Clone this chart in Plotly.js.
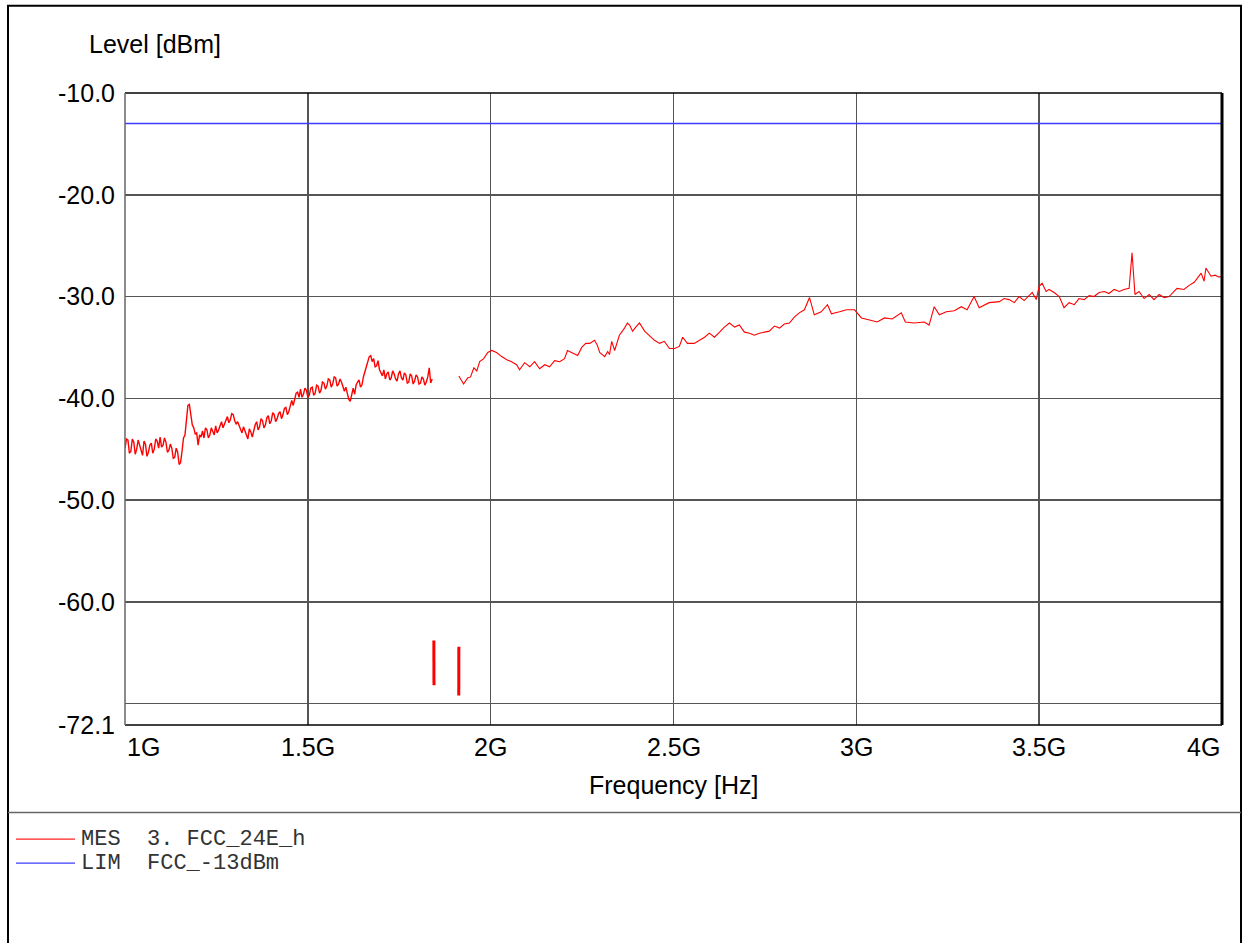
<!DOCTYPE html>
<html>
<head>
<meta charset="utf-8">
<script src="https://cdn.plot.ly/plotly-3.0.1.min.js"></script>
<style>
html,body{margin:0;padding:0;background:#fff;}
#chart{width:1243px;height:943px;}
</style>
</head>
<body>
<div id="chart"></div>
<script>
// ---- Data (frequency in MHz, level in dBm) ----
const seg1Freq = [1000,1004,1008,1012,1016,1020,1024,1028,1032,1036,1040,1044,1048,1052,1056,1060,1064,1068,1072,1076,
  1080,1084,1088,1092,1096,1100,1104,1108,1112,1116,1120,1124,1128,1132,1136,1140,1144,1148,1152,1156,
  1160,1164,1168,1172,1176,1180,1184,1188,1192,1196,1200,1204,1208,1212,1216,1220,1224,1228,1232,1236,
  1240,1244,1248,1252,1256,1260,1264,1268,1272,1276,1280,1284,1288,1292,1296,1300,1304,1308,1312,1316,
  1320,1324,1328,1332,1336,1340,1344,1348,1352,1356,1360,1364,1368,1372,1376,1380,1384,1388,1392,1396,
  1400,1404,1408,1412,1416,1420,1424,1428,1432,1436,1440,1444,1448,1452,1456,1460,1464,1468,1472,1476,
  1480,1484,1488,1492,1496,1500,1504,1508,1512,1516,1520,1524,1528,1532,1536,1540,1544,1548,1552,1556,
  1560,1564,1568,1572,1576,1580,1584,1588,1592,1596,1600,1604,1608,1612,1616,1620,1624,1628,1632,1636,
  1640,1644,1648,1652,1656,1660,1664,1668,1672,1676,1680,1684,1688,1692,1696,1700,1704,1708,1712,1716,
  1720,1724,1728,1732,1736,1740,1744,1748,1752,1756,1760,1764,1768,1772,1776,1780,1784,1788,1792,1796,
  1800,1804,1808,1812,1816,1820,1824,1828,1832,1836,1840];
const seg1Level = [-44.9,-44.0,-44.1,-45.4,-45.2,-44.0,-44.3,-45.5,-45.0,-44.1,-44.6,-45.1,-45.6,-44.2,-44.5,-45.7,-45.3,-44.6,-44.4,-45.4,
  -45.0,-44.0,-44.2,-44.9,-43.8,-44.8,-44.6,-43.9,-44.3,-45.3,-45.1,-44.5,-44.9,-45.9,-45.8,-44.9,-45.3,-46.5,-46.3,-45.2,
  -43.9,-43.6,-42.3,-40.7,-40.6,-41.8,-42.6,-42.9,-43.5,-43.4,-44.6,-43.6,-43.8,-43.2,-43.9,-42.9,-43.1,-43.9,-43.6,-42.9,
  -43.3,-43.6,-42.7,-43.4,-43.1,-42.6,-42.3,-42.9,-42.5,-42.0,-41.8,-42.4,-42.1,-41.5,-41.6,-42.2,-42.5,-42.3,-42.7,-43.2,
  -43.4,-42.8,-43.2,-43.8,-44.0,-43.0,-43.3,-43.8,-43.0,-42.6,-42.3,-43.1,-42.8,-42.0,-42.2,-42.9,-42.6,-41.9,-41.7,-42.5,
  -42.2,-41.4,-41.6,-42.3,-42.0,-41.5,-41.3,-42.0,-41.6,-41.0,-40.9,-41.6,-41.3,-40.6,-40.2,-40.7,-40.0,-39.5,-39.4,-39.9,
  -39.1,-39.9,-39.6,-39.0,-39.2,-39.9,-39.7,-39.0,-38.9,-39.7,-39.5,-38.7,-38.8,-39.5,-39.2,-38.4,-38.5,-39.1,-38.8,-38.1,
  -38.2,-38.9,-38.6,-37.9,-38.0,-38.8,-38.6,-38.1,-38.4,-39.0,-39.3,-38.9,-39.6,-40.1,-40.3,-39.5,-39.0,-39.6,-38.7,-38.4,
  -38.2,-38.9,-38.7,-37.9,-37.5,-36.9,-36.4,-35.9,-35.8,-36.4,-36.1,-36.9,-36.8,-36.3,-37.2,-37.5,-37.8,-37.2,-38.1,-37.6,
  -37.4,-38.2,-38.0,-37.3,-37.6,-38.1,-38.3,-37.6,-37.3,-38.0,-38.2,-37.5,-37.7,-38.5,-38.4,-37.6,-37.8,-38.6,-38.3,-37.7,
  -37.9,-38.6,-38.5,-37.9,-38.1,-38.7,-38.4,-37.9,-37.0,-38.5,-38.1];

const notch1Freq = [1844.6,1845.4,1844.8,1845.6,1845.0];
const notch1Level = [-63.8,-66.0,-67.4,-65.0,-68.2];
const notch2Freq = [1913.0,1912.2,1913.2,1912.4,1912.8];
const notch2Level = [-64.4,-66.5,-68.0,-67.0,-69.2];

const seg2Freq = [1913,1921,1926,1937,1945,1954,1962,1970,1981,1992,2003,2016,2030,2044,2057,2071,2079,2093,2107,2120,
  2134,2148,2161,2175,2189,2202,2210,2221,2238,2249,2260,2271,2284,2292,2298,2312,2320,2325,2331,2339,
  2352,2366,2374,2380,2388,2399,2407,2421,2434,2448,2462,2475,2489,2503,2516,2525,2538,2557,2571,2585,
  2598,2612,2626,2639,2653,2667,2680,2694,2708,2721,2735,2749,2762,2776,2790,2803,2817,2831,2844,2858,
  2872,2885,2904,2921,2932,2954,2973,2995,3014,3036,3057,3077,3098,3123,3134,3158,3186,3199,3213,3227,
  3246,3268,3287,3303,3322,3336,3363,3391,3404,3418,3432,3445,3459,3481,3492,3500,3508,3519,3527,3541,
  3555,3568,3582,3596,3609,3623,3637,3650,3664,3678,3691,3705,3719,3732,3746,3754,3762,3773,3787,3801,
  3814,3828,3842,3855,3869,3877,3896,3910,3924,3932,3943,3951,3956,3970,3981,3992,3997];
const seg2Level = [-37.8,-38.3,-38.6,-38.0,-37.9,-37.0,-37.3,-36.4,-36.1,-35.5,-35.3,-35.5,-35.9,-36.2,-36.4,-36.7,-37.2,-36.5,-36.9,-36.4,
  -37.1,-36.7,-36.9,-36.3,-36.4,-36.1,-35.3,-35.5,-35.8,-35.0,-34.6,-34.6,-34.3,-34.8,-35.5,-35.9,-35.4,-35.7,-34.4,-35.3,
  -33.8,-33.1,-32.6,-32.8,-33.4,-32.9,-32.6,-33.4,-33.8,-34.3,-34.6,-34.4,-35.1,-35.1,-34.9,-34.0,-34.6,-34.6,-34.3,-34.0,
  -33.6,-34.0,-33.5,-33.0,-32.6,-33.0,-32.8,-33.5,-33.6,-33.8,-33.6,-33.5,-33.4,-32.9,-33.1,-32.7,-32.6,-32.0,-31.6,-31.3,
  -30.1,-31.8,-31.5,-30.8,-31.7,-31.5,-31.3,-31.3,-32.1,-32.3,-32.5,-32.1,-32.2,-31.6,-32.5,-32.6,-32.5,-32.8,-31.0,-31.8,
  -31.5,-31.4,-31.0,-31.3,-30.0,-31.1,-30.6,-30.5,-30.2,-30.3,-30.6,-30.0,-30.4,-29.6,-30.3,-29.0,-28.7,-29.5,-29.3,-29.6,
  -30.0,-31.1,-30.6,-30.8,-30.2,-30.3,-29.9,-30.0,-29.6,-29.5,-29.7,-29.3,-29.5,-29.3,-29.2,-25.7,-29.8,-29.5,-30.2,-29.8,
  -30.3,-29.8,-30.1,-30.0,-29.5,-29.2,-29.3,-28.9,-28.6,-28.2,-27.7,-28.5,-27.2,-28.0,-27.9,-28.1,-28.0];

const limitFreq = [1000, 4000];
const limitLevel = [-13, -13];

const yTickVals = [-72.1, -70, -60, -50, -40, -30, -20, -10];
const yTickText = ['-72.1', '', '-60.0', '-50.0', '-40.0', '-30.0', '-20.0', '-10.0'];
const xTickVals = [1000, 1500, 2000, 2500, 3000, 3500, 4000];
const xTickText = ['1G', '1.5G', '2G', '2.5G', '3G', '3.5G', '4G'];

const legendNames = ['MES\u00a0\u00a03.\u00a0FCC_24E_h', 'LIM\u00a0\u00a0FCC_-13dBm'];
const legendColors = ['#ff2020', '#3c3cff'];

// ---- Layout geometry helpers ----
const W = 1243, H = 943;
const L = 125, R = 1222, T = 93.3, B = 725;
const px = x => (x - L) / (R - L);
const py = y => (B - y) / (B - T);

const red = '#ff0000';
const traces = [
  {x: seg1Freq, y: seg1Level, mode: 'lines', line: {color: red, width: 1.4}, hoverinfo: 'skip'},
  {x: notch1Freq, y: notch1Level, mode: 'lines', line: {color: red, width: 3}, hoverinfo: 'skip'},
  {x: notch2Freq, y: notch2Level, mode: 'lines', line: {color: red, width: 3}, hoverinfo: 'skip'},
  {x: seg2Freq, y: seg2Level, mode: 'lines', line: {color: red, width: 1.1}, hoverinfo: 'skip'},
  {x: limitFreq, y: limitLevel, mode: 'lines', line: {color: legendColors[1], width: 1.4}, hoverinfo: 'skip'}
];

const font = 'Liberation Sans, Arial, sans-serif';
const mono = 'Courier New, Liberation Mono, monospace';

const annotations = [];
xTickVals.forEach((v, i) => {
  let anchor = 'center';
  if (i === 0) anchor = 'left';
  if (i === xTickVals.length - 1) anchor = 'right';
  annotations.push({
    x: v, xref: 'x', y: 0, yref: 'paper', xanchor: anchor, yanchor: 'top',
    text: xTickText[i], showarrow: false, yshift: -6,
    font: {family: font, size: 25, color: '#000'}
  });
});
annotations.push({x: 0.5, xref: 'paper', y: py(785), yref: 'paper', xanchor: 'center', yanchor: 'middle',
  text: 'Frequency [Hz]', showarrow: false, font: {family: font, size: 25, color: '#000'}});
annotations.push({x: px(87), xref: 'paper', y: py(44), yref: 'paper', xanchor: 'left', yanchor: 'middle',
  text: 'Level [dBm]', showarrow: false, font: {family: font, size: 25, color: '#000'}});
legendNames.forEach((n, i) => {
  annotations.push({x: px(79), xref: 'paper', y: py(839 + i * 24), yref: 'paper', xanchor: 'left', yanchor: 'middle',
    text: n, showarrow: false, font: {family: mono, size: 22, color: '#333'}});
});

const shapes = [];
// legend swatches
legendColors.forEach((c, i) => {
  shapes.push({type: 'line', xref: 'paper', yref: 'paper', x0: px(16), x1: px(75), y0: py(839 + i * 24), y1: py(839 + i * 24),
    line: {color: c, width: 1.3}});
});
// outer frame
shapes.push({type: 'rect', xref: 'paper', yref: 'paper', x0: px(8), x1: px(1241), y0: py(6), y1: py(960),
  line: {color: '#000', width: 2}, layer: 'above'});
// separator above legend
shapes.push({type: 'line', xref: 'paper', yref: 'paper', x0: px(8), x1: px(1241), y0: py(812.5), y1: py(812.5),
  line: {color: '#666', width: 1.5}, layer: 'above'});
// plot frame
shapes.push({type: 'line', xref: 'paper', yref: 'paper', x0: 0, x1: 1, y0: 1, y1: 1, line: {color: '#000', width: 1.5}, layer: 'above'});
shapes.push({type: 'line', xref: 'paper', yref: 'paper', x0: 0, x1: 1, y0: 0, y1: 0, line: {color: '#000', width: 1.5}, layer: 'above'});
shapes.push({type: 'line', xref: 'paper', yref: 'paper', x0: 0, x1: 0, y0: 0, y1: 1, line: {color: '#666', width: 1.5}, layer: 'above'});
shapes.push({type: 'line', xref: 'paper', yref: 'paper', x0: 1, x1: 1, y0: 0, y1: 1, line: {color: '#000', width: 3}, layer: 'above'});

const layout = {
  width: W, height: H,
  margin: {l: L, r: W - R, t: T, b: H - B, pad: 0},
  paper_bgcolor: '#fff', plot_bgcolor: '#fff',
  showlegend: false,
  font: {family: font, size: 22, color: '#000'},
  xaxis: {
    range: [1000, 4000], tickvals: xTickVals, showticklabels: false, ticks: '',
    showgrid: true, gridcolor: '#555', gridwidth: 1.5, zeroline: false, showline: false, fixedrange: true
  },
  yaxis: {
    range: [-72.1, -10], tickvals: yTickVals, ticktext: yTickText, ticks: '',
    showgrid: true, gridcolor: '#555', gridwidth: 1.5, zeroline: false, showline: false,
    tickfont: {family: font, size: 25, color: '#000'}, ticklabelstandoff: 9, fixedrange: true
  },
  annotations: annotations,
  shapes: shapes
};

Plotly.newPlot('chart', traces, layout, {displayModeBar: false, staticPlot: true});
</script>
</body>
</html>
